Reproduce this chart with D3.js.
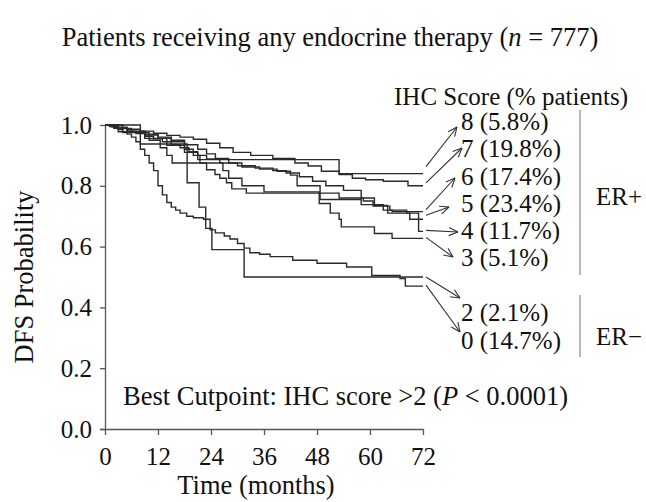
<!DOCTYPE html>
<html><head><meta charset="utf-8">
<script src="https://cdn.jsdelivr.net/npm/d3@7"></script>
<style>
html,body{margin:0;padding:0;background:#fff;}
svg{display:block;}
text{font-family:"Liberation Serif","Times New Roman",serif;fill:#111;}
</style>
</head><body>
<svg id="c" width="646" height="502"></svg>
<script>
// ---------- data ----------
const xTicks = [0, 12, 24, 36, 48, 60, 72];
const yTicks = [0, 0.2, 0.4, 0.6, 0.8, 1.0];
const scores = ["8", "7", "6", "5", "4", "3", "2", "0"];
const pctPatients = ["5.8%", "19.8%", "17.4%", "23.4%", "11.7%", "5.1%", "2.1%", "14.7%"];
const erGroups = ["ER+", "ER\u2212"];

// Kaplan-Meier step curves: event times (months) and DFS probability
const t8 = [0, 3, 9, 14, 18, 21, 53];
const s8 = [1, 0.978, 0.956, 0.933, 0.91, 0.886, 0.84];

const t7 = [0, 2, 5, 8, 11, 14, 17, 20, 23, 26, 29, 33, 38, 43, 46, 49, 53, 56, 59, 63, 68.6];
const s7 = [1, 0.993, 0.986, 0.98, 0.973, 0.966, 0.96, 0.953, 0.94, 0.925, 0.91, 0.9, 0.89, 0.875, 0.865, 0.848, 0.837, 0.825, 0.82, 0.815, 0.80];

const t6 = [0, 2, 5, 9, 12, 15, 18, 21, 23, 25, 28, 31, 35, 39, 42, 43.5, 48.7, 58, 63, 65];
const s6 = [1, 0.99, 0.98, 0.97, 0.96, 0.95, 0.935, 0.92, 0.905, 0.89, 0.875, 0.862, 0.855, 0.848, 0.835, 0.80, 0.755, 0.738, 0.72, 0.715];

const t5 = [0, 1.5, 3, 5, 7, 9, 11, 13, 15, 17, 19, 21, 23, 26, 30, 34, 38, 41, 44, 47, 50, 54, 58, 61, 64, 69];
const s5 = [1, 0.994, 0.988, 0.98, 0.972, 0.963, 0.955, 0.945, 0.935, 0.925, 0.912, 0.9, 0.888, 0.875, 0.866, 0.858, 0.85, 0.842, 0.83, 0.815, 0.80, 0.785, 0.76, 0.735, 0.71, 0.69];

const t4 = [0, 3, 6, 9, 12, 15, 18, 20, 21.5, 23, 24.9, 26, 27.5, 28.7, 32, 53, 58.5, 60.7, 64.5, 68.3, 71];
const s4 = [1, 0.989, 0.978, 0.967, 0.956, 0.945, 0.92, 0.9, 0.875, 0.853, 0.837, 0.825, 0.81, 0.79, 0.776, 0.76, 0.75, 0.733, 0.72, 0.71, 0.65];

const t3 = [0, 4, 10, 12.5, 14, 15.2, 26.7, 28, 31, 36, 48.5, 51, 53, 53.5, 61, 65];
const s3 = [1, 0.975, 0.95, 0.925, 0.9, 0.875, 0.85, 0.825, 0.80, 0.78, 0.742, 0.71, 0.69, 0.665, 0.643, 0.627];

const t2 = [0, 8, 18.6, 21.3, 22.8, 24.2, 31.5];
const s2 = [1, 0.9375, 0.81, 0.73, 0.66, 0.59, 0.50];

const t0 = [0, 1, 2, 3, 4, 5, 6, 7, 8, 9, 10, 11, 12, 13, 14, 15, 16, 17, 18.5, 20, 22.3, 23.8, 25, 27, 28.3, 30, 31.5, 32.8, 35, 37.4, 42.5, 48, 54.7, 60.4, 66.8, 68];
const s0 = [1, 0.995, 0.99, 0.985, 0.978, 0.97, 0.96, 0.945, 0.92, 0.9, 0.875, 0.85, 0.80, 0.77, 0.745, 0.73, 0.72, 0.71, 0.70, 0.695, 0.69, 0.655, 0.645, 0.635, 0.625, 0.61, 0.595, 0.58, 0.575, 0.567, 0.555, 0.545, 0.533, 0.505, 0.495, 0.47];

const curveTimes = [t8, t7, t6, t5, t4, t3, t2, t0];
const curveSurv = [s8, s7, s6, s5, s4, s3, s2, s0];

// ---------- layout ----------
const svg = d3.select("#c");
const FS = 25, FL = 26.5;
const x = d3.scaleLinear().domain([0, 72]).range([105, 423]);
const y = d3.scaleLinear().domain([0, 1]).range([429, 125]);

const labelX = 461;
const labelY = [122, 149, 177, 204, 231, 258, 313, 341];
const arrowStartDy = [-7, -3, -2, -4, -1, -1, 0, -1];
const arrowEnd = [[457, 127], [462, 148], [455, 178], [449, 207], [458, 232], [453, 257], [460, 298], [460, 332]];

// title
svg.append("text").attr("x", 330).attr("y", 46).attr("text-anchor", "middle")
  .style("font-size", FL + "px")
  .html('Patients receiving any endocrine therapy (<tspan font-style="italic">n</tspan> = 777)');

svg.append("text").attr("x", 628).attr("y", 105).attr("text-anchor", "end")
  .style("font-size", FS + "px").text("IHC Score (% patients)");

// axes
const yAxis = d3.axisLeft(y).tickValues(yTicks).tickFormat(d3.format(".1f"))
  .tickSize(5).tickSizeOuter(0).tickPadding(8);
const gy = svg.append("g").attr("transform", "translate(105,0)").call(yAxis);
const xAxis = d3.axisBottom(x).tickValues(xTicks).tickFormat(d3.format("d"))
  .tickSize(6).tickSizeOuter(0).tickPadding(12);
const gx = svg.append("g").attr("transform", "translate(0,429)").call(xAxis);
[gx, gy].forEach(g => {
  g.select(".domain").attr("stroke", "#555").attr("stroke-width", 1.3);
  g.selectAll(".tick line").attr("stroke", "#555").attr("stroke-width", 1.3);
  g.selectAll(".tick text").style("font-size", FS + "px")
    .style("font-family", '"Liberation Serif","Times New Roman",serif').attr("fill", "#111");
});
gx.select(".domain").attr("d", "M100,0.5H423");

svg.append("text").attr("transform", "translate(33,277) rotate(-90)")
  .attr("text-anchor", "middle").style("font-size", FL + "px").text("DFS Probability");
svg.append("text").attr("x", 256).attr("y", 494).attr("text-anchor", "middle")
  .style("font-size", FL + "px").text("Time (months)");

// curves
const line = d3.line().x(d => x(d[0])).y(d => y(d[1])).curve(d3.curveStepAfter);
curveTimes.forEach((ts, i) => {
  const pts = ts.map((t, j) => [t, curveSurv[i][j]]);
  pts.push([72, curveSurv[i][curveSurv[i].length - 1]]);
  svg.append("path").attr("d", line(pts)).attr("fill", "none")
    .attr("stroke", "#2a2a2a").attr("stroke-width", 1.4);
});

// labels + arrows
scores.forEach((s, i) => {
  svg.append("text").attr("x", labelX).attr("y", labelY[i]).attr("dy", "0.33em")
    .style("font-size", FS + "px").text(`${s} (${pctPatients[i]})`);
  const sv = curveSurv[i][curveSurv[i].length - 1];
  const x0 = x(72) + 3, y0 = y(sv) + arrowStartDy[i];
  const [x1, y1] = arrowEnd[i];
  svg.append("line").attr("x1", x0).attr("y1", y0).attr("x2", x1).attr("y2", y1)
    .attr("stroke", "#333").attr("stroke-width", 1.1);
  const ang = Math.atan2(y1 - y0, x1 - x0);
  const L = 10, a = 0.42;
  [ang + Math.PI - a, ang + Math.PI + a].forEach(b => {
    svg.append("line").attr("x1", x1).attr("y1", y1)
      .attr("x2", x1 + L * Math.cos(b)).attr("y2", y1 + L * Math.sin(b))
      .attr("stroke", "#333").attr("stroke-width", 1.1);
  });
});

// ER brackets
svg.append("line").attr("x1", 580).attr("x2", 580).attr("y1", 110).attr("y2", 275)
  .attr("stroke", "#888").attr("stroke-width", 1.2);
svg.append("line").attr("x1", 580).attr("x2", 580).attr("y1", 295).attr("y2", 357)
  .attr("stroke", "#888").attr("stroke-width", 1.2);
svg.append("text").attr("x", 596).attr("y", 197).attr("dy", "0.33em")
  .style("font-size", FS + "px").text(erGroups[0]);
svg.append("text").attr("x", 596).attr("y", 337).attr("dy", "0.33em")
  .style("font-size", FS + "px").text(erGroups[1]);

// annotation
svg.append("text").attr("x", 123).attr("y", 405).style("font-size", FL + "px")
  .html('Best Cutpoint: IHC score &gt;2 (<tspan font-style="italic">P</tspan> &lt; 0.0001)');
</script>
</body></html>
